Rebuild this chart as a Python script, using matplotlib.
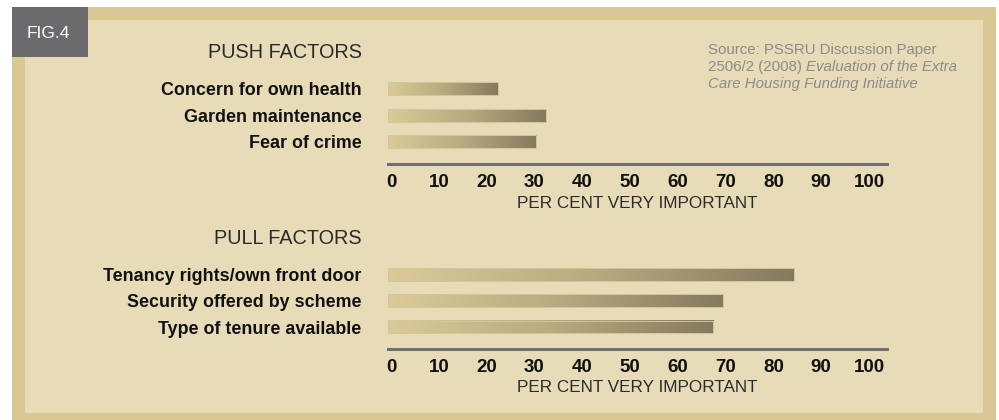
import numpy as np
import matplotlib
matplotlib.use('Agg')
import matplotlib.pyplot as plt
import matplotlib.transforms as mtransforms
from matplotlib.colors import LinearSegmentedColormap
from matplotlib.patches import Rectangle


PUSH_LABELS = ['Concern for own health', 'Garden maintenance', 'Fear of crime']
PUSH_VALUES = [23, 33, 31]
PULL_LABELS = ['Tenancy rights/own front door', 'Security offered by scheme', 'Type of tenure available']
PULL_VALUES = [85, 70, 68]
TICKS = [0, 10, 20, 30, 40, 50, 60, 70, 80, 90, 100]

W, H = 999, 420
OUTER = '#d9c894'
INNER = '#e8dcb8'
GREY_BOX = '#6b6a6c'
AXIS_GREY = '#707070'
BAR_CMAP = LinearSegmentedColormap.from_list('bar', ['#dacb98', '#b9aa80', '#847a5e'])
LIGHT_FONT = 'Liberation Sans'


def fx(x):
    return x / W


def fy(y):
    return 1 - y / H


def draw_panel(fig, top, bottom, labels, values):
    ax = fig.add_axes([fx(388), fy(bottom), fx(887 - 388), (bottom - top) / H])
    ax.set_zorder(5)
    ax.set_facecolor('none')
    pos = np.arange(len(values))
    bars = ax.barh(pos, values, height=0.49, color='none', edgecolor='none')
    grad = np.linspace(0, 1, 256).reshape(1, -1)
    for b in bars:
        x0, y0, w, h = b.get_x(), b.get_y(), b.get_width(), b.get_height()
        ax.imshow(grad, extent=[x0, x0 + w, y0 + h, y0], aspect='auto',
                  cmap=BAR_CMAP, zorder=2)
        ax.add_patch(Rectangle((x0, y0), w, h, facecolor='none',
                               edgecolor='#d3c69c', linewidth=0.7, zorder=3))
    ax.set_xlim(0, 104.4)
    ax.set_ylim(2.84, -0.52)
    ax.set_xticks(TICKS)
    ax.set_xticklabels([str(t) for t in TICKS], fontsize=13.5, fontweight='bold',
                       family='Liberation Sans', color='#111111')
    ax.tick_params(axis='x', length=0, pad=7)
    shift = mtransforms.ScaledTranslation(3 / 100, 0, fig.dpi_scale_trans)
    for lab in ax.get_xticklabels():
        lab.set_transform(lab.get_transform() + shift)
    ax.set_yticks(pos)
    ax.set_yticklabels(labels, fontsize=12.9, fontweight='bold',
                       family='Liberation Sans', color='#111111')
    ax.tick_params(axis='y', length=0, pad=19)
    for s in ['top', 'right', 'left']:
        ax.spines[s].set_visible(False)
    ax.spines['bottom'].set_color(AXIS_GREY)
    ax.spines['bottom'].set_linewidth(2.2)
    ax.text(0.5, -39 / (bottom - top), 'PER CENT VERY IMPORTANT',
            transform=ax.transAxes, ha='center', va='center', fontsize=12.3,
            family=LIGHT_FONT, color='#2a2a2a')
    return ax


def main():
    fig = plt.figure(figsize=(W / 100, H / 100), dpi=100)
    fig.patch.set_facecolor('white')

    fig.patches.append(Rectangle((fx(12), 0), fx(996 - 12), fy(7), transform=fig.transFigure,
                                 facecolor=OUTER, edgecolor='none', zorder=0))
    fig.patches.append(Rectangle((fx(25), fy(413)), fx(983 - 25), (413 - 20) / H,
                                 transform=fig.transFigure, facecolor=INNER,
                                 edgecolor='none', zorder=0))
    fig.patches.append(Rectangle((fx(12), fy(57)), fx(88 - 12), (57 - 7) / H,
                                 transform=fig.transFigure, facecolor=GREY_BOX,
                                 edgecolor='none', zorder=1))
    fig.text(fx(27), fy(33), 'FIG.4', color='white', fontsize=12.5, family=LIGHT_FONT,
             va='center', ha='left')

    fig.text(fx(362), fy(52), 'PUSH FACTORS', fontsize=14.3, family=LIGHT_FONT,
             ha='right', va='center', color='#2a2a2a')
    fig.text(fx(362), fy(238), 'PULL FACTORS', fontsize=14.3, family=LIGHT_FONT,
             ha='right', va='center', color='#2a2a2a')

    src_kw = dict(fontsize=10.8, family='Liberation Sans', color='#8a8a8a',
                  ha='left', va='center')
    fig.text(fx(708), fy(50), 'Source: PSSRU Discussion Paper', **src_kw)
    t = fig.text(fx(708), fy(67), '2506/2 (2008) ', **src_kw)
    fig.canvas.draw()
    bb = t.get_window_extent()
    fig.text(bb.x1 / W, fy(67), 'Evaluation of the Extra', style='italic', **src_kw)
    fig.text(fx(708), fy(84), 'Care Housing Funding Initiative', style='italic', **src_kw)

    draw_panel(fig, 75, 164, PUSH_LABELS, PUSH_VALUES)
    draw_panel(fig, 261, 349, PULL_LABELS, PULL_VALUES)

    fig.savefig('out.png', dpi=100, facecolor=fig.get_facecolor())


if __name__ == '__main__':
    main()
